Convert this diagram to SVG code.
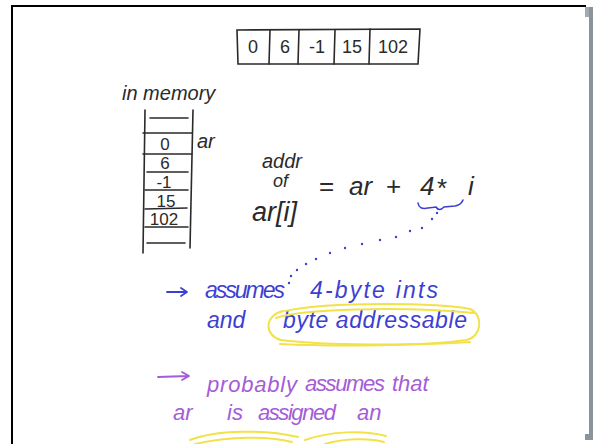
<svg xmlns="http://www.w3.org/2000/svg" width="597" height="444" viewBox="0 0 597 444">
<style>
.ink{fill:none;stroke:#2a2a2a;stroke-width:1.6;stroke-linecap:round}
.t{font-family:"Liberation Sans","DejaVu Sans",sans-serif;fill:#2a2a2a}
.blue{font-family:"Liberation Sans","DejaVu Sans",sans-serif;fill:#3d3fd2;font-style:italic}
.purp{font-family:"Liberation Sans","DejaVu Sans",sans-serif;fill:#a45cd8;font-style:italic}
.hl{fill:none;stroke:#f2e24a;stroke-width:2;stroke-linecap:round}
.dot{fill:#3d3fd2}
</style>
<rect width="597" height="444" fill="#ffffff"/>
<g id="frame">
<rect x="11" y="5" width="575" height="2" fill="#000"/>
<rect x="11" y="5" width="2" height="439" fill="#000"/>
<rect x="585" y="7" width="5" height="10" fill="#a2acb0"/>
<rect x="589" y="7" width="4" height="433" fill="#8a959a"/>
<rect x="585" y="434" width="7" height="6" fill="#8a959a"/>
</g>
<g id="array">
<path class="ink" d="M237,30 L420,29 L418,64 L238,64 Z"/>
<path class="ink" d="M270,30 L269,64 M299,30 L298,64 M335,30 L334,64 M370,29 L369,64"/>
<text class="t" x="253" y="53" font-size="18" text-anchor="middle">0</text>
<text class="t" x="285" y="53" font-size="18" text-anchor="middle">6</text>
<text class="t" x="317" y="53" font-size="18" text-anchor="middle">-1</text>
<text class="t" x="352" y="53" font-size="18" text-anchor="middle">15</text>
<text class="t" x="393" y="53" font-size="18" text-anchor="middle">102</text>
</g>
<g id="memory">
<text class="t" x="122" y="100" font-size="20" font-style="italic">in memory</text>
<path class="ink" d="M145,110 L143,253 M193,110 L190,248"/>
<path class="ink" d="M150,118 L188,118 M143,133 L192,133 M143,154 L192,154 M147,172 L188,172 M145,190 L188,190 M145,209 L187,208 M145,227 L188,227 M147,243 L185,243"/>
<text class="t" x="165" y="150" font-size="17" text-anchor="middle">0</text>
<text class="t" x="165" y="169" font-size="17" text-anchor="middle">6</text>
<text class="t" x="164" y="188" font-size="17" text-anchor="middle">-1</text>
<text class="t" x="166" y="207" font-size="17" text-anchor="middle">15</text>
<text class="t" x="164" y="225" font-size="17" text-anchor="middle">102</text>
<text class="t" x="197" y="148" font-size="20" font-style="italic">ar</text>
</g>
<g id="formula">
<text class="t" x="262" y="168" font-size="20" font-style="italic">addr</text>
<text class="t" x="273" y="187" font-size="18" font-style="italic">of</text>
<text class="t" x="252" y="221" font-size="27" font-style="italic">ar[i]</text>
<text class="t" x="319" y="195" font-size="26">=</text>
<text class="t" x="349" y="195" font-size="26" font-style="italic">ar</text>
<text class="t" x="386" y="195" font-size="26">+</text>
<text class="t" x="420" y="195" font-size="26" font-style="italic">4</text>
<text class="t" x="437" y="197" font-size="26">*</text>
<text class="t" x="468" y="195" font-size="26" font-style="italic">i</text>
</g>
<g id="connectors">
<path d="M418,203 Q419,210 428,208 L436,207 Q439,212 444,207 L455,206 Q461,205 463,200" fill="none" stroke="#3d3fd2" stroke-width="1.6" stroke-linecap="round"/>
<circle class="dot" cx="437" cy="213" r="1.2"/>
<circle class="dot" cx="432" cy="219" r="1.2"/>
<circle class="dot" cx="422" cy="228" r="1.2"/>
<circle class="dot" cx="410" cy="231" r="1.2"/>
<circle class="dot" cx="396" cy="237" r="1.2"/>
<circle class="dot" cx="380" cy="240" r="1.2"/>
<circle class="dot" cx="362" cy="244" r="1.2"/>
<circle class="dot" cx="345" cy="248" r="1.2"/>
<circle class="dot" cx="330" cy="253" r="1.2"/>
<circle class="dot" cx="316" cy="259" r="1.2"/>
<circle class="dot" cx="306" cy="264" r="1.2"/>
<circle class="dot" cx="297" cy="270" r="1.2"/>
<circle class="dot" cx="291" cy="276" r="1.2"/>
<circle class="dot" cx="289" cy="283" r="1.2"/>
</g>
<g id="note1">
<path d="M167,292 L186,292 M181,288 L187,292 L181,296" fill="none" stroke="#3d3fd2" stroke-width="1.8" stroke-linecap="round" stroke-linejoin="round"/>
<text class="blue" x="205" y="298" font-size="23" textLength="80" lengthAdjust="spacing">assumes</text>
<text class="blue" x="310" y="298" font-size="23" textLength="128" lengthAdjust="spacing">4-byte ints</text>
<text class="blue" x="207" y="328" font-size="23">and</text>
<text class="blue" x="283" y="328" font-size="23" textLength="184" lengthAdjust="spacing">byte addressable</text>
<path class="hl" d="M285,311 C330,301 440,303 470,309 C484,315 482,337 466,340 C420,347 320,345 281,340 C265,336 263,316 283,311"/>
<path class="hl" d="M276,318 C300,309 400,306 474,313 M280,344 C340,347 420,345 470,342"/>
</g>
<g id="note2">
<path d="M158,377 L188,376 M182,372 L189,376 L182,380" fill="none" stroke="#a45cd8" stroke-width="1.8" stroke-linecap="round" stroke-linejoin="round"/>
<text class="purp" x="207" y="392" font-size="22" textLength="90" lengthAdjust="spacing">probably</text>
<text class="purp" x="305" y="391" font-size="22" textLength="80" lengthAdjust="spacing">assumes</text>
<text class="purp" x="392" y="391" font-size="22">that</text>
<text class="purp" x="173" y="420" font-size="22">ar</text>
<text class="purp" x="227" y="420" font-size="22">is</text>
<text class="purp" x="258" y="420" font-size="22" textLength="78" lengthAdjust="spacing">assigned</text>
<text class="purp" x="357" y="420" font-size="22">an</text>
<path class="hl" d="M190,440 C215,430 265,429 298,437 M195,444 C230,436 270,436 292,442 M305,440 C330,431 365,430 386,436 M325,444 C345,438 370,438 384,442"/>
</g>
</svg>
